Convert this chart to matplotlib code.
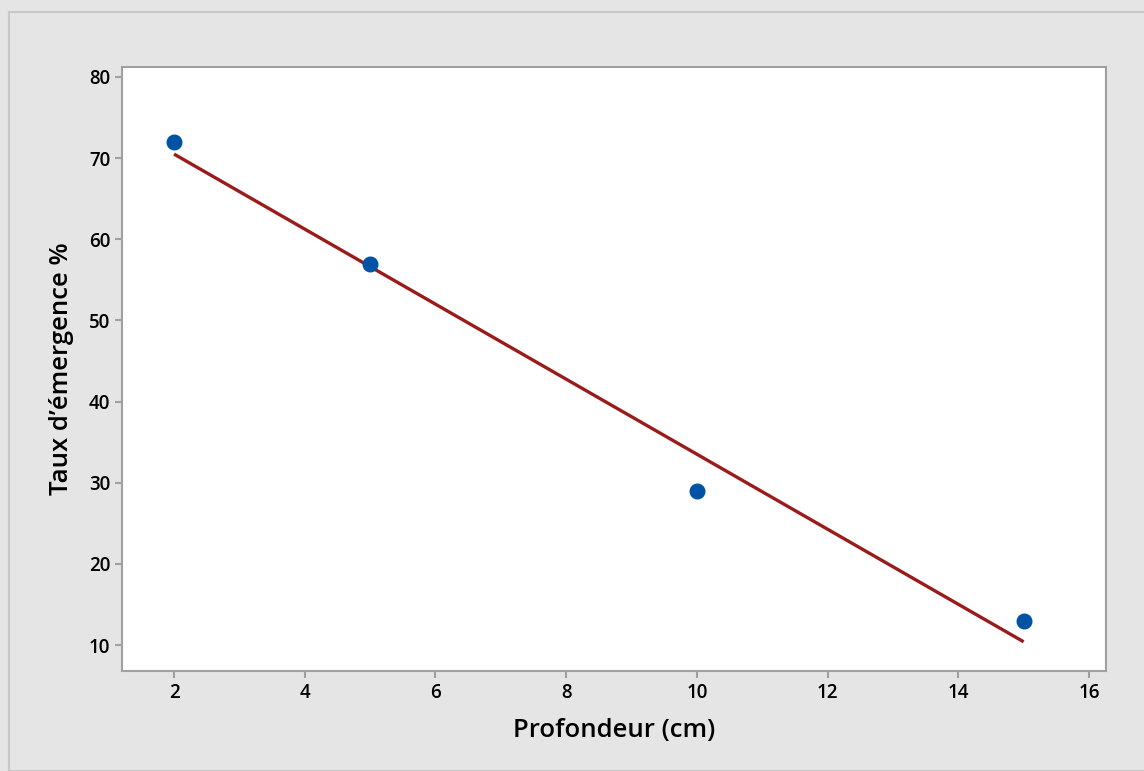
import matplotlib
matplotlib.use("Agg")
import matplotlib.pyplot as plt
from matplotlib.patches import Rectangle

depth = [2, 5, 10, 15]
emergence = [72, 57, 29, 13]
fit_x = [2, 15]
fit_y = [70.5, 10.4]
xticks = [2, 4, 6, 8, 10, 12, 14, 16]
yticks = [10, 20, 30, 40, 50, 60, 70, 80]

plt.rcParams['font.family'] = ['Open Sans', 'DejaVu Sans']

W, H = 1144, 771
fig = plt.figure(figsize=(W/100, H/100), dpi=100)
fig.patch.set_facecolor('#E5E5E5')
fig.patches.append(Rectangle((9/W, 0), 1.2, 1 - 12/H, transform=fig.transFigure,
                             fill=False, edgecolor='#C8C8C8', linewidth=1.5))

left, right, top, bottom = 122, 1106, 67, 671
ax = fig.add_axes([left/W, 1 - bottom/H, (right-left)/W, (bottom-top)/H])
ax.set_facecolor('white')

ax.plot(fit_x, fit_y, color='#9B1B1B', linewidth=2.4, solid_capstyle='butt', zorder=2)
ax.plot(depth, emergence, 'o', color='#0052A5', markersize=10.5, zorder=3)

ax.set_xlim(1.204, 16.26)
ax.set_ylim(6.8, 81.23)
ax.set_xticks(xticks)
ax.set_yticks(yticks)
for s in ax.spines.values():
    s.set_color('#A0A0A0')
    s.set_linewidth(1.5)
ax.tick_params(axis='both', direction='out', length=5, width=1.5, color='#A0A0A0',
               labelsize=13.5, labelcolor='black', pad=3.5)
for lab in ax.get_xticklabels() + ax.get_yticklabels():
    lab.set_fontweight('semibold')

ax.set_xlabel('Profondeur (cm)', fontsize=18.5, fontweight='semibold', labelpad=11)
ax.set_ylabel('Taux d\u2019émergence %', fontsize=18.5, fontweight='semibold', labelpad=11)

fig.savefig('out.png', dpi=100, facecolor=fig.get_facecolor())
